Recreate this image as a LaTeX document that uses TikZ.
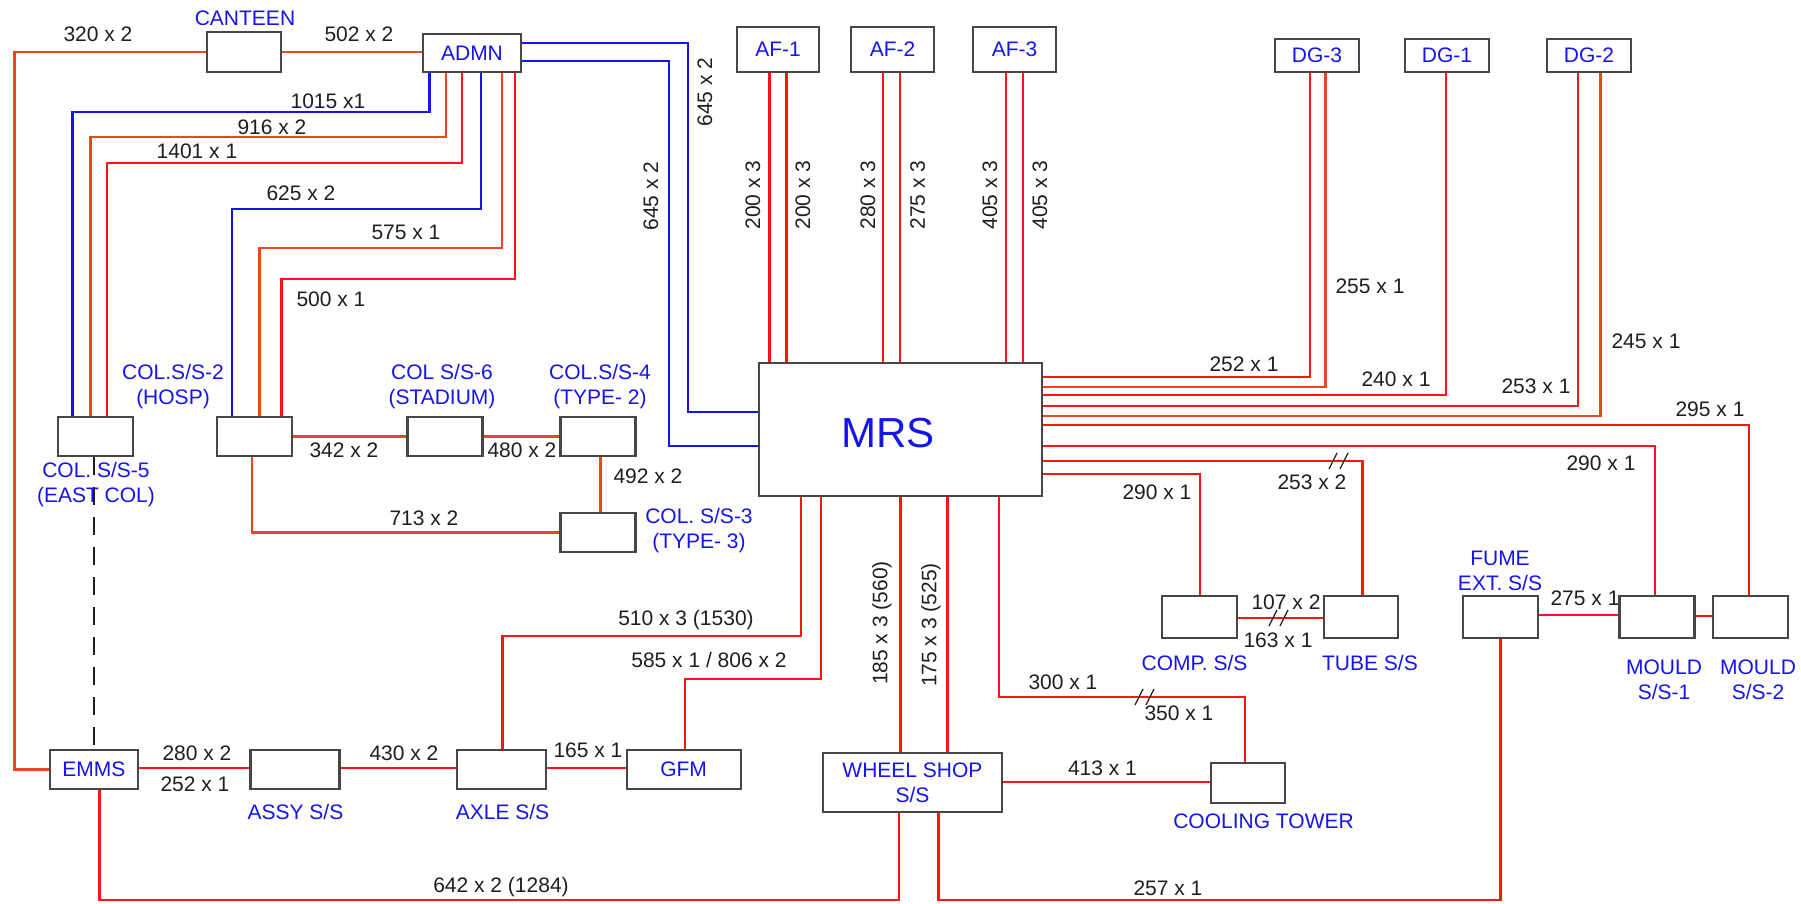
\documentclass[tikz,border=0pt]{standalone}
\usepackage{fontspec}
\setmainfont{Liberation Sans}
\definecolor{cred}{RGB}{255,20,20}
\definecolor{corg}{RGB}{232,72,30}
\definecolor{cblue}{RGB}{20,20,240}
\definecolor{ctext}{RGB}{30,30,30}
\definecolor{cbox}{RGB}{70,70,70}
\tikzset{
 box/.style={draw=cbox, line width=1.1pt, fill=white, inner sep=0pt, font=\fontsize{10.5}{12.5}\selectfont, text=cblue, align=center},
 rl/.style={draw=cred, line width=1.4pt},
 ol/.style={draw=corg, line width=1.4pt},
 bl/.style={draw=cblue, line width=1.4pt},
 lab/.style={font=\fontsize{10.5}{12.5}\selectfont, text=ctext, inner sep=0pt},
 blab/.style={font=\fontsize{10.5}{12.5}\selectfont, text=cblue, inner sep=0pt, align=center},
 vlab/.style={lab, rotate=90},
 slashmark/.style={draw=ctext, line width=0.6pt},
}
\begin{document}
\begin{tikzpicture}[x=0.5pt,y=-0.5pt]
\useasboundingbox (0,0) rectangle (1801,904);
% ---------- boxes ----------
\node[box, minimum width=37pt, minimum height=20pt] (canteen) at (244,52) {};
\node[box, minimum width=49pt, minimum height=19pt] (admn) at (472,53) {ADMN};
\node[box, minimum width=41pt, minimum height=22.5pt] (af1) at (778,49.5) {AF-1};
\node[box, minimum width=41.5pt, minimum height=22.5pt] (af2) at (892.5,49.5) {AF-2};
\node[box, minimum width=41.5pt, minimum height=22.5pt] (af3) at (1014.5,49.5) {AF-3};
\node[box, minimum width=42pt, minimum height=16.5pt] (dg3) at (1317,55.5) {DG-3};
\node[box, minimum width=42pt, minimum height=16.5pt] (dg1) at (1447,55.5) {DG-1};
\node[box, minimum width=42pt, minimum height=16.5pt] (dg2) at (1589,55.5) {DG-2};
\node[box, minimum width=37.5pt, minimum height=19.5pt] (col5) at (95.5,436.5) {};
\node[box, minimum width=37.5pt, minimum height=19.5pt] (col2) at (254.5,436.5) {};
\node[box, minimum width=37.5pt, minimum height=19.5pt] (col6) at (445,436.5) {};
\node[box, minimum width=37.5pt, minimum height=19.5pt] (col4) at (598,436.5) {};
\node[box, minimum width=37.5pt, minimum height=19.5pt] (col3) at (598,532.5) {};
\node[box, minimum width=141.5pt, minimum height=66.5pt] (mrs) at (900.5,429.5) {};
\node[blab, font=\fontsize{21}{24}\selectfont] (mrstext) at (888,433) {MRS};
\node[box, minimum width=37.5pt, minimum height=21pt] (comp) at (1199.5,617) {};
\node[box, minimum width=37pt, minimum height=21pt] (tube) at (1361,617) {};
\node[box, minimum width=37.5pt, minimum height=21pt] (fume) at (1500.5,617) {};
\node[box, minimum width=37.5pt, minimum height=21pt] (mould1) at (1657,617) {};
\node[box, minimum width=37.5pt, minimum height=21pt] (mould2) at (1750.5,617) {};
\node[box, minimum width=44pt, minimum height=19.5pt] (emms) at (93.8,769.5) {EMMS};
\node[box, minimum width=44.5pt, minimum height=19.5pt] (assy) at (295,769.5) {};
\node[box, minimum width=44.5pt, minimum height=19.5pt] (axle) at (501.5,769.5) {};
\node[box, minimum width=57pt, minimum height=19.5pt] (gfm) at (683.6,769.5) {GFM};
\node[box, minimum width=89.5pt, minimum height=29.5pt] (wheel) at (912.5,782.5) {WHEEL SHOP\\S/S};
\node[box, minimum width=37pt, minimum height=20pt] (cooling) at (1248,783) {};
% ---------- blue captions ----------
\node[blab] (tcanteen) at (245,18) {CANTEEN};
\node[blab] (tcol2) at (173,386.5) {COL.S/S-2\\(HOSP)};
\node[blab] (tcol6) at (442,386.5) {COL S/S-6\\(STADIUM)};
\node[blab] (tcol4) at (600,386.5) {COL.S/S-4\\(TYPE- 2)};
\node[blab] (tcol5) at (96,484.5) {COL. S/S-5\\(EAST COL)};
\node[blab] (tcol3) at (699,530.5) {COL. S/S-3\\(TYPE- 3)};
\node[blab] (tcomp) at (1194.5,663) {COMP. S/S};
\node[blab] (ttube) at (1370,663) {TUBE S/S};
\node[blab] (tfume) at (1500,570.5) {FUME\\EXT. S/S};
\node[blab] (tmould1) at (1664,679.5) {MOULD\\S/S-1};
\node[blab] (tmould2) at (1758,679.5) {MOULD\\S/S-2};
\node[blab] (tassy) at (295.5,812) {ASSY S/S};
\node[blab] (taxle) at (502.5,812) {AXLE S/S};
\node[blab] (tcooling) at (1263.5,821) {COOLING TOWER};
% ---------- connectors ----------
\draw[ol] (canteen.west) -| (14.5,0 |- emms.west) -- (emms.west);
\draw[ol] (canteen.east) -- (canteen.east -| admn.west);
\draw[bl] (admn.east |- 0,43) -| (688,412) -- (mrs.west |- 0,412);
\draw[bl] (admn.east |- 0,61) -| (669,446) -- (mrs.west |- 0,446);
\draw[bl] (429.4,0 |- admn.south) |- (72.7,112) -- (72.7,0 |- col5.north);
\draw[ol] (446,0 |- admn.south) |- (90.3,137) -- (90.3,0 |- col5.north);
\draw[rl] (462,0 |- admn.south) |- (107,163) -- (107,0 |- col5.north);
\draw[bl] (481,0 |- admn.south) |- (232,209) -- (232,0 |- col2.north);
\draw[ol] (502,0 |- admn.south) |- (259.5,248) -- (259.5,0 |- col2.north);
\draw[rl] (515,0 |- admn.south) |- (281.7,279) -- (281.7,0 |- col2.north);
\draw[ol] (col2.east) -- (col6.west);
\draw[ol] (col6.east) -- (col4.west);
\draw[ol] (600.7,0 |- col4.south) -- (600.7,0 |- col3.north);
\draw[ol] (252,0 |- col2.south) |- (col3.west);
\draw[draw=ctext, line width=1pt, dash pattern=on 9pt off 6pt] (94,0 |- col5.south) -- (94,0 |- emms.north);
% AF
\draw[rl] (769.5,0 |- af1.south) -- (769.5,0 |- mrs.north);
\draw[rl] (786.8,0 |- af1.south) -- (786.8,0 |- mrs.north);
\draw[rl] (883,0 |- af2.south) -- (883,0 |- mrs.north);
\draw[rl] (900,0 |- af2.south) -- (900,0 |- mrs.north);
\draw[rl] (1006,0 |- af3.south) -- (1006,0 |- mrs.north);
\draw[rl] (1023,0 |- af3.south) -- (1023,0 |- mrs.north);
% MRS right side
\draw[rl] (mrs.east |- 0,377) -| (1310,0 |- dg3.south);
\draw[ol] (mrs.east |- 0,387) -| (1325.5,0 |- dg3.south);
\draw[rl] (mrs.east |- 0,395) -| (1446,0 |- dg1.south);
\draw[rl] (mrs.east |- 0,406) -| (1578,0 |- dg2.south);
\draw[ol] (mrs.east |- 0,416) -| (1600.7,0 |- dg2.south);
\draw[rl] (mrs.east |- 0,425) -| (1749,0 |- mould2.north);
\draw[rl] (mrs.east |- 0,446) -| (1655,0 |- mould1.north);
\draw[rl] (mrs.east |- 0,461) -| (1362.6,0 |- tube.north);
\draw[rl] (mrs.east |- 0,474) -| (1200,0 |- comp.north);
\draw[rl] (comp.east |- 0,618) -- (tube.west |- 0,618);
\draw[rl] (fume.east |- 0,615) -- (mould1.west |- 0,615);
\draw[rl] (mould1.east |- 0,616) -- (mould2.west |- 0,616);
% MRS bottom
\draw[rl] (801,0 |- mrs.south) |- (502.5,636) -- (502.5,0 |- axle.north);
\draw[rl] (821,0 |- mrs.south) |- (685,679) -- (685,0 |- gfm.north);
\draw[rl] (900.4,0 |- mrs.south) -- (900.4,0 |- wheel.north);
\draw[rl] (947.5,0 |- mrs.south) -- (947.5,0 |- wheel.north);
\draw[rl] (999,0 |- mrs.south) |- (1245,697) -- (1245,0 |- cooling.north);
\draw[rl] (wheel.east |- 0,782) -- (cooling.west |- 0,782);
% bottom row
\draw[rl] (emms.east |- 0,768) -- (assy.west |- 0,768);
\draw[rl] (assy.east |- 0,768) -- (axle.west |- 0,768);
\draw[rl] (axle.east |- 0,768) -- (gfm.west |- 0,768);
\draw[rl] (99.5,0 |- emms.south) |- (899,900) -- (899,0 |- wheel.south);
\draw[rl] (938.7,0 |- wheel.south) |- (1500.4,900) -- (1500.4,0 |- fume.south);
% slash marks
\foreach \cx/\cy in {1333/461,1344/461,1273/618,1284/618,1139/697,1150/697}
  \draw[slashmark] (\cx-4,\cy+8) -- (\cx+4,\cy-8);
% ---------- black labels ----------
\node[lab] (l1) at (98,34) {320 x 2};
\node[lab] (l2) at (359,34) {502 x 2};
\node[lab] (l3) at (328,101) {1015 x1};
\node[lab] (l4) at (272,127) {916 x 2};
\node[lab] (l5) at (197,151) {1401 x 1};
\node[lab] (l6) at (301,193) {625 x 2};
\node[lab] (l7) at (406,232) {575 x 1};
\node[lab] (l8) at (331,299) {500 x 1};
\node[lab] (l9) at (344,450) {342 x 2};
\node[lab] (l10) at (522,450) {480 x 2};
\node[lab] (l11) at (648,476) {492 x 2};
\node[lab] (l12) at (424,518) {713 x 2};
\node[vlab] (l13) at (705,92) {645 x 2};
\node[vlab] (l14) at (651,196) {645 x 2};
\node[vlab] (l15) at (753,195) {200 x 3};
\node[vlab] (l16) at (803,195) {200 x 3};
\node[vlab] (l17) at (868,195) {280 x 3};
\node[vlab] (l18) at (917.6,195) {275 x 3};
\node[vlab] (l19) at (990,195) {405 x 3};
\node[vlab] (l20) at (1040,195) {405 x 3};
\node[lab] (l21) at (1244,364) {252 x 1};
\node[lab] (l22) at (1370,286) {255 x 1};
\node[lab] (l23) at (1396,379) {240 x 1};
\node[lab] (l24) at (1536,386) {253 x 1};
\node[lab] (l25) at (1646,341) {245 x 1};
\node[lab] (l26) at (1710,409) {295 x 1};
\node[lab] (l27) at (1601,463) {290 x 1};
\node[lab] (l28) at (1312,482) {253 x 2};
\node[lab] (l29) at (1157,492) {290 x 1};
\node[lab] (l30) at (1286,602) {107 x 2};
\node[lab] (l31) at (1278,640) {163 x 1};
\node[lab] (l32) at (1585,598) {275 x 1};
\node[lab] (l33) at (686,620) {510 x 3 (1530)};
\node[lab] (l34) at (709,660) {585 x 1 / 806 x 2};
\node[vlab] (l35) at (882,623) {185 x 3 (560)};
\node[vlab] (l36) at (931,625) {175 x 3 (525)};
\node[lab] (l37) at (1063,682) {300 x 1};
\node[lab] (l38) at (1179,713) {350 x 1};
\node[lab] (l39) at (1102.5,768) {413 x 1};
\node[lab] (l40) at (197,753) {280 x 2};
\node[lab] (l41) at (195,784) {252 x 1};
\node[lab] (l42) at (404,753) {430 x 2};
\node[lab] (l43) at (588,750) {165 x 1};
\node[lab] (l44) at (501,887) {642 x 2 (1284)};
\node[lab] (l45) at (1168,888) {257 x 1};
\end{tikzpicture}
\end{document}
